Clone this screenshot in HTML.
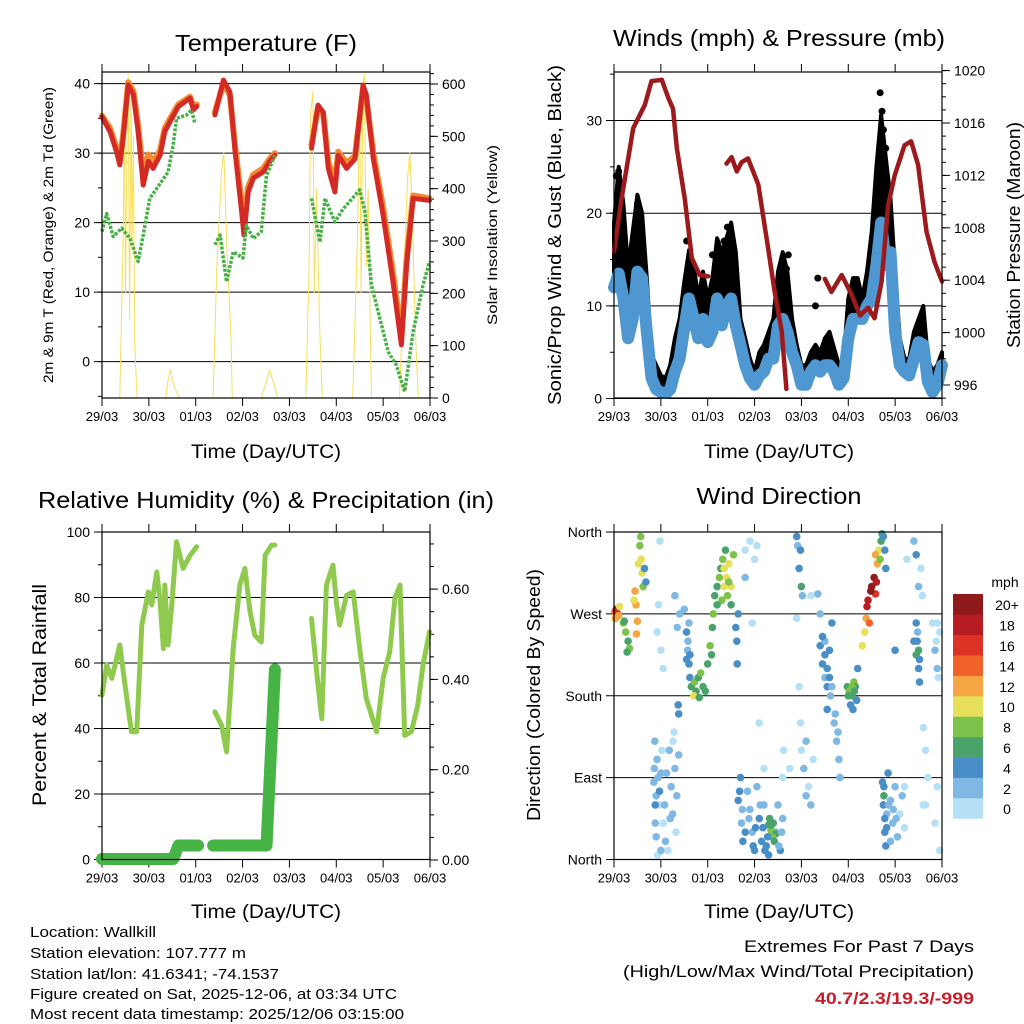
<!DOCTYPE html>
<html><head><meta charset="utf-8"><style>
html,body{margin:0;padding:0;background:#fff;width:1024px;height:1024px;overflow:hidden}
svg{display:block;font-family:"Liberation Sans",Arial,sans-serif}
</style></head><body>
<svg id="fig" width="1024" height="1024" viewBox="0 0 1024 1024" xmlns="http://www.w3.org/2000/svg">
<rect width="1024" height="1024" fill="#fff"/>
<g id="p1"></g>
<g id="p2"></g>
<g id="p3"></g>
<g id="p4"></g>
<text x="266" y="51" font-size="23" text-anchor="middle" textLength="182" lengthAdjust="spacingAndGlyphs">Temperature (F)</text>
<text x="779" y="46" font-size="23" text-anchor="middle" textLength="332" lengthAdjust="spacingAndGlyphs">Winds (mph) &amp; Pressure (mb)</text>
<text x="266" y="508" font-size="23" text-anchor="middle" textLength="456" lengthAdjust="spacingAndGlyphs">Relative Humidity (%) &amp; Precipitation (in)</text>
<text x="779" y="504" font-size="23" text-anchor="middle" textLength="165" lengthAdjust="spacingAndGlyphs">Wind Direction</text>
<text x="266" y="458" font-size="19" text-anchor="middle" textLength="150" lengthAdjust="spacingAndGlyphs">Time (Day/UTC)</text>
<text x="779" y="458" font-size="19" text-anchor="middle" textLength="150" lengthAdjust="spacingAndGlyphs">Time (Day/UTC)</text>
<text x="266" y="918" font-size="19" text-anchor="middle" textLength="150" lengthAdjust="spacingAndGlyphs">Time (Day/UTC)</text>
<text x="779" y="918" font-size="19" text-anchor="middle" textLength="150" lengthAdjust="spacingAndGlyphs">Time (Day/UTC)</text>
<text transform="translate(53,235) rotate(-90)" font-size="14" text-anchor="middle" textLength="296" lengthAdjust="spacingAndGlyphs">2m &amp; 9m T (Red, Orange) &amp; 2m Td (Green)</text>
<text transform="translate(497,235) rotate(-90)" font-size="14" text-anchor="middle" textLength="180" lengthAdjust="spacingAndGlyphs">Solar Insolation (Yellow)</text>
<text transform="translate(561,235) rotate(-90)" font-size="18" text-anchor="middle" textLength="340" lengthAdjust="spacingAndGlyphs">Sonic/Prop Wind &amp; Gust (Blue, Black)</text>
<text transform="translate(1020,235) rotate(-90)" font-size="18" text-anchor="middle" textLength="226" lengthAdjust="spacingAndGlyphs">Station Pressure (Maroon)</text>
<text transform="translate(46,695) rotate(-90)" font-size="19" text-anchor="middle" textLength="222" lengthAdjust="spacingAndGlyphs">Percent &amp; Total Rainfall</text>
<text transform="translate(540,695) rotate(-90)" font-size="18" text-anchor="middle" textLength="252" lengthAdjust="spacingAndGlyphs">Direction (Colored By Speed)</text>
<g font-size="15">
<text x="30" y="937" textLength="126" lengthAdjust="spacingAndGlyphs">Location: Wallkill</text>
<text x="30" y="958" textLength="216" lengthAdjust="spacingAndGlyphs">Station elevation: 107.777 m</text>
<text x="30" y="979" textLength="249" lengthAdjust="spacingAndGlyphs">Station lat/lon: 41.6341; -74.1537</text>
<text x="30" y="999" textLength="367" lengthAdjust="spacingAndGlyphs">Figure created on Sat, 2025-12-06, at 03:34 UTC</text>
<text x="30" y="1019" textLength="374" lengthAdjust="spacingAndGlyphs">Most recent data timestamp: 2025/12/06 03:15:00</text>
</g>
<g font-size="17" text-anchor="end">
<text x="974" y="952" textLength="230" lengthAdjust="spacingAndGlyphs">Extremes For Past 7 Days</text>
<text x="974" y="977" textLength="351" lengthAdjust="spacingAndGlyphs">(High/Low/Max Wind/Total Precipitation)</text>
<text x="974" y="1004" fill="#c8202a" font-weight="bold" textLength="159" lengthAdjust="spacingAndGlyphs">40.7/2.3/19.3/-999</text>
</g>
</svg>
<script>
// ---------- data ----------
const dayLabels=["29/03","30/03","01/03","02/03","03/03","04/03","05/03","06/03"];
const tempT=[0,.17,.31,.38,.45,.56,.67,.77,.88,.99,1.09,1.24,1.34,1.49,1.63,1.88,1.95,2.02,null,2.41,2.59,2.73,2.84,2.98,3.03,3.12,3.23,3.44,3.58,3.69,null,4.47,4.61,4.72,4.83,4.97,5.04,5.22,5.40,5.57,5.64,5.79,6.0,6.21,6.39,6.50,6.64,6.99];
const temp2m=[35.2,33.1,30.2,28.3,32.1,39.8,38.4,33.1,25.4,28.8,27.8,29.7,33.1,35.0,36.7,37.9,36.2,36.7,null,35.5,40.5,38.8,30.2,21.6,18.2,24.4,26.4,27.3,28.8,29.7,null,30.7,36.9,35.9,27.8,24.4,29.7,27.8,29.2,39.8,38.4,29.2,21.1,11.5,2.4,13.9,23.5,23.2];
const temp9m=[35.4,33.6,30.8,29.0,32.6,40.2,38.9,34.0,27.0,29.8,28.8,30.4,33.6,35.4,37.0,38.1,36.6,37.0,null,35.9,40.0,38.3,31.0,23.0,19.5,25.2,26.9,27.8,29.2,30.0,null,31.2,36.5,35.6,28.8,25.6,30.2,28.6,29.6,39.2,37.9,30.0,22.2,12.8,3.6,14.8,23.9,23.5];
const dewT=[0,.10,.24,.42,.60,.77,.88,1.02,1.27,1.41,1.52,1.59,1.81,1.91,1.98,null,2.41,2.52,2.66,2.80,3.01,3.08,3.23,3.40,3.51,3.69,null,4.47,4.65,4.76,4.97,5.15,5.50,5.61,5.75,5.93,6.11,6.28,6.46,6.64,6.85,6.99];
const dewV=[18.7,21.3,18.0,19.2,17.7,14.4,18.2,23.5,25.9,27.3,31.2,35.0,35.5,36.2,34.3,null,16.8,18.2,11.5,15.8,14.9,19.6,17.7,18.7,26.8,29.7,null,23.5,17.2,23.5,20.1,22.0,24.7,21.6,11.0,6.2,1.4,-0.5,-4.3,4.3,11.0,14.4];
const solarT=[.38,.45,.48,.50,.53,.56,.59,.62,.64,.67,.70,.75,1.36,1.40,1.46,1.50,1.55,1.65,2.37,2.45,2.55,2.6,2.66,2.75,2.78,3.40,3.52,3.58,3.62,3.66,3.75,4.35,4.42,4.45,4.50,4.53,4.58,4.64,4.70,5.35,5.45,5.50,5.53,5.57,5.60,5.64,5.68,5.75,6.35,6.45,6.52,6.57,6.62,6.70,6.75];
const solarV=[0,300,580,200,450,620,150,600,300,500,100,0,0,30,55,35,20,0,0,250,430,470,300,120,0,0,35,55,40,30,0,0,250,540,585,200,400,150,0,0,300,560,200,600,620,250,400,0,0,250,420,470,350,100,0];
const presT=[0,.16,.41,.66,.80,1.02,1.16,1.26,1.34,1.51,1.66,1.83,2.01,null,2.40,2.51,2.62,2.72,2.86,3.08,3.29,3.43,3.58,3.68,null,4.50,4.64,4.86,5.07,5.25,5.42,5.56,5.71,5.85,5.99,6.20,6.34,6.49,6.67,6.84,7.0];
const presV=[1006.2,1010.2,1015.6,1017.4,1019.2,1019.3,1017.9,1017.1,1014.1,1010.2,1005.7,1004.4,1004.3,null,1012.9,1013.4,1012.3,1013.0,1013.3,1011.3,1006.4,1003.1,1000.1,995.7,null,1004.1,1003.1,1004.4,1002.9,1001.3,1001.9,1001.1,1003.9,1009.7,1012.0,1014.3,1014.6,1012.8,1007.7,1005.4,1003.9];
const windT=[0,.1,.2,.3,.4,.5,.6,.7,.8,.9,1.0,1.1,1.2,1.3,1.4,1.5,1.6,1.7,1.8,1.9,2.0,2.1,2.2,2.3,2.4,2.5,2.6,2.7,2.8,2.9,3.0,3.1,3.2,3.3,3.4,3.5,3.6,3.7,3.8,3.9,4.0,4.1,4.2,4.3,4.4,4.5,4.6,4.7,4.8,4.9,5.0,5.1,5.2,5.3,5.4,5.5,5.6,5.7,5.8,5.9,6.0,6.1,6.2,6.3,6.4,6.5,6.6,6.7,6.8,6.9,7.0];
const windV=[12,13.5,10.8,6.5,8.6,13.7,13,7.2,2.2,1,0.7,0.5,1,2.9,4.3,7.6,10.8,8.6,6.5,8.6,6.1,7.2,10.8,7.9,10,10.8,7.9,5.8,3.6,2.2,1.5,2.5,2.9,4.3,4.3,7.9,8.6,7.2,5,3.6,1.5,1.5,2.9,3.6,2.9,3.6,3.6,2.9,1.5,2.2,6.5,8.6,8.6,8.6,10,10.8,14.4,19,14.4,15.8,7.2,3.6,2.9,2.5,4.3,6.1,5.8,1.8,0.7,1.5,3.6];
const gustV=[19,25,21,14,18,22,20,13,4.7,3.6,2.5,2.2,3.6,6.5,8.6,12.6,16,14.4,10.8,13.7,10.8,13,17.3,15.8,17.3,19,15.8,8.6,6.5,4.3,2.9,5,5.8,7.2,8.6,13.7,15.8,13.7,8.6,5.8,3.6,3.6,5,5.8,5,6.5,7.2,5.4,3.6,4.3,10.8,13,13,10.8,13.7,18,25,30.6,26,21.6,13.7,6.5,4.3,4.3,7.2,8.6,10,4.3,2.9,3.6,5];
const gustOutT=[0.05,0.1,0.5,2.1,2.35,2.42,3.68,3.72,4.3,4.35,5.68,5.72,5.75,5.8,0.55,1.55];
const gustOutV=[24,24.5,21,15.5,17,18.5,14,15.5,10,13,33,31,29,27,19,17];
const rhT=[0,.10,.21,.38,.53,.63,.74,.85,.99,1.06,1.17,1.24,1.31,1.34,1.41,1.49,1.59,1.73,1.88,2.02,null,2.41,2.55,2.66,2.80,2.94,3.05,3.16,3.26,3.40,3.48,3.62,3.69,null,4.47,4.61,4.69,4.79,4.93,5.00,5.07,5.22,5.36,5.50,5.64,5.86,6.00,6.14,6.25,6.36,6.46,6.60,6.74,6.85,6.99];
const rhV=[50.2,59.4,55.3,65.5,49.2,39.0,39.0,71.6,81.7,77.7,87.8,78.7,64.4,83.8,65.5,77.7,97.0,88.9,92.9,95.5,null,45.1,41.0,32.9,64.4,83.8,88.9,75.6,68.5,66.4,92.9,96.0,96.0,null,73.6,53.2,43.0,83.8,89.9,78.7,71.6,80.7,81.7,64.4,49.2,39.0,55.3,63.4,79.7,83.8,37.9,39.0,47.2,59.4,69.5];
const precipT=[0,1.52,1.63,2.05,null,2.37,3.51,3.69];
const precipV=[0,0,0.03,0.03,null,0.03,0.03,0.42];
const dirT=[0.02,0.05,0.08,0.1,0.03,0.12,0.2,0.25,0.3,0.33,0.28,0.22,0.45,0.47,0.5,0.48,0.43,0.55,0.58,0.6,0.62,0.57,0.65,0.68,0.52,0.95,1.0,1.05,0.92,0.98,0.85,0.9,0.88,0.92,0.96,1.0,1.05,1.1,1.18,1.22,1.25,1.3,1.32,1.28,0.93,1.15,1.3,1.35,1.37,1.38,1.4,1.55,1.57,1.6,1.62,1.58,1.65,1.72,1.8,1.75,1.9,1.85,1.7,1.95,1.82,2.0,2.05,2.1,2.12,2.15,2.2,2.25,2.28,2.32,2.35,2.4,2.45,2.5,2.42,2.55,2.38,2.5,2.6,2.62,2.63,2.65,2.8,2.9,3.0,3.05,2.95,2.8,2.65,2.7,2.72,2.75,2.85,2.9,2.95,3.0,3.05,3.1,3.15,3.2,3.25,3.3,3.45,3.5,3.55,3.6,3.3,3.35,3.4,3.45,3.38,3.1,3.2,3.6,3.62,3.75,3.9,3.92,3.95,4.0,4.02,3.98,4.2,4.35,4.4,3.9,3.95,3.98,4.0,4.05,4.1,4.15,4.2,4.25,4.1,4.4,4.45,4.5,4.55,4.6,4.65,4.62,4.7,4.55,4.5,4.75,4.8,4.82,4.78,4.98,5.02,5.08,5.12,5.15,5.05,5.1,5.2,5.18,5.3,5.35,5.38,5.4,5.42,5.45,5.5,5.55,5.6,5.58,5.48,5.62,5.65,5.58,5.7,5.68,5.72,5.75,5.78,5.8,5.73,5.75,5.78,5.8,5.82,5.9,5.95,6.0,6.05,6.1,6.15,5.85,6.2,5.76,6.0,6.2,6.25,6.4,6.45,6.5,6.4,6.45,6.5,6.52,6.48,6.55,6.58,6.6,6.65,6.7,6.9,6.85,6.95,6.65,6.8,6.85,6.9,6.95,6.88,
0.86,0.88,0.9,0.94,0.97,1.02,1.08,1.12,1.2,1.26,1.34,1.38,0.87,1.0,1.5,1.55,1.6,1.62,2.45,2.35,2.3,2.2,2.08,2.68,2.74,2.8,2.88,2.97,3.02,3.12,3.18,3.22,3.28,3.32,3.36,3.42,3.52,3.58,4.45,4.5,4.55,4.6,4.65,4.72,5.0,5.08,5.13,5.76,5.78,5.82,5.86,5.9,5.96,6.02,6.45,6.47,6.52,6.5,6.6,6.9,6.92];
const dirV=[272,275,270,268,265,278,260,250,240,232,228,262,295,280,262,248,285,345,330,315,300,355,320,305,325,280,230,210,250,350,85,70,40,110,60,95,40,20,120,80,50,100,30,140,5,10,290,255,170,160,270,250,230,215,200,240,190,195,200,185,190,205,180,185,178,215,235,255,270,290,300,310,320,330,300,310,325,300,290,335,340,280,255,240,215,270,340,350,330,345,260,310,65,90,40,20,75,55,30,10,80,45,20,60,15,5,30,60,10,45,38,32,40,28,25,150,100,90,120,100,355,345,320,300,290,340,290,292,270,265,190,150,120,100,130,80,60,110,70,235,215,200,190,230,260,180,150,165,240,130,110,90,140,190,185,180,195,190,170,165,210,175,235,250,265,278,285,260,300,310,305,292,295,325,340,335,350,330,358,355,340,320,85,60,30,15,50,65,40,80,25,50,70,95,35,70,230,80,330,350,335,300,240,225,210,195,250,320,290,145,120,90,80,40,10,60,260,230,210,250,240,
100,60,25,90,75,120,60,95,45,130,70,115,130,10,275,220,260,225,305,320,285,280,225,75,55,30,45,15,35,60,35,10,25,45,38,20,15,30,245,225,210,200,190,160,180,190,185,80,45,35,60,20,55,45,260,240,220,230,60,260,200];
const dirS=[14,18,16,12,12,10,8,8,6,8,6,6,12,12,12,12,10,8,10,10,8,8,4,4,10,0,0,0,0,0,2,2,2,2,0,2,0,2,2,2,2,2,0,0,0,0,2,2,4,4,2,4,2,4,4,2,6,8,6,6,6,8,10,6,6,6,8,6,8,6,6,8,6,8,10,10,10,10,8,8,6,6,4,4,4,4,0,0,0,0,0,2,4,4,2,4,2,2,2,4,2,4,4,2,4,4,2,2,4,2,6,8,6,6,8,0,0,0,0,0,4,2,4,6,2,4,0,2,2,0,0,0,0,2,2,0,2,0,2,4,4,2,4,4,4,2,2,4,2,2,2,2,2,6,8,6,8,6,4,4,4,4,10,10,12,18,18,14,20,20,18,16,20,12,10,12,6,8,6,4,4,4,4,4,4,4,2,2,2,2,2,0,2,4,0,6,4,0,0,2,4,2,4,6,4,4,2,0,0,0,0,0,0,0,0,0,0,2,2,0,0,
2,4,2,2,4,0,2,2,2,0,2,2,2,2,2,4,2,4,8,10,8,6,6,4,2,4,2,4,4,2,4,4,4,6,6,6,2,2,4,4,4,4,2,2,6,8,6,4,4,4,2,2,2,2,4,4,4,6,0,0,0];
const speedBins=["0","2","4","6","8","10","12","14","16","18","20+"];
const speedColors=["#b5e0f6","#7fb9e3","#4a8ec7","#4aa36b","#7cc24b","#e6e05a","#f6a642","#f0622a","#dd3327","#b71c22","#8e1a1b"];

// ---------- helpers ----------
const NS="http://www.w3.org/2000/svg";
function mk(parent,tag,attrs){const e=document.createElementNS(NS,tag);for(const k in attrs)e.setAttribute(k,attrs[k]);parent.appendChild(e);return e;}
function txt(parent,x,y,s,size,anchor){const e=mk(parent,"text",{x:x,y:y,"font-size":size,"text-anchor":anchor});e.textContent=s;return e;}
function pathD(xs,ys,fx,fy){let d="",pen=false;for(let i=0;i<xs.length;i++){if(xs[i]===null||ys[i]===null){pen=false;continue;}d+=(pen?"L":"M")+fx(xs[i]).toFixed(1)+","+fy(ys[i]).toFixed(1);pen=true;}return d;}

function frame(g,x0,y0,x1,y1){
  const X=t=>x0+t/7*(x1-x0);
  for(let i=0;i<8;i++){
    const x=X(i);
    const tb=mk(g,"line",{x1:x,x2:x,y1:y1,y2:y1+8,stroke:"#000","stroke-width":1});
    
    
    const tt=mk(g,"line",{x1:x,x2:x,y1:y0,y2:y0-8,stroke:"#000","stroke-width":1});
    
    
    const lb=txt(g,x,y1+23,dayLabels[i],13,"middle");
    
    
  }
  return X;
}
function box(g,x0,y0,x1,y1){
  const r=mk(g,"rect",{x:x0,y:y0,width:x1-x0,height:y1-y0,fill:"none",stroke:"#000","stroke-width":1.2});
  
  
}
function leftAxis(g,x0,x1,Y,majors,minors,labels,grid){
  minors.forEach(v=>{const l=mk(g,"line",{x1:x0,x2:x0-4,y1:Y(v),y2:Y(v),stroke:"#000"});
    
    });
  majors.forEach((v,i)=>{
    const l=mk(g,"line",{x1:x0-8,x2:grid?x1:x0,y1:Y(v),y2:Y(v),stroke:"#000","stroke-width":1});
    
    
    const t=txt(g,x0-12,Y(v)+5,labels[i],14,"end");
    
    
  });
}
function rightAxis(g,x1,Y,majors,minors,labels,size){
  minors.forEach(v=>{const l=mk(g,"line",{x1:x1,x2:x1+4,y1:Y(v),y2:Y(v),stroke:"#000"});
    
    });
  majors.forEach((v,i)=>{
    const l=mk(g,"line",{x1:x1,x2:x1+8,y1:Y(v),y2:Y(v),stroke:"#000"});
    
    
    const t=txt(g,x1+12,Y(v)+5,labels[i],size||14,"start");
    
    
  });
}
function range(a,b,s){const r=[];for(let v=a;v<=b+1e-9;v+=s)r.push(+v.toFixed(3));return r;}

// ---------- panel 1: temperature ----------
(function(){
  const g=document.getElementById("p1");
  const x0=102,x1=430,y0=72,y1=398;
  const X=frame(g,x0,y0,x1,y1);
  const Y=v=>361.6-v*6.95;
  const Ys=v=>398-v*0.5233;
  leftAxis(g,x0,x1,Y,[40,30,20,10,0],range(-5,40,5),["40","30","20","10","0"],true);
  rightAxis(g,x1,Ys,range(0,600,100),range(0,620,20),["0","100","200","300","400","500","600"]);
  const s=mk(g,"path",{d:pathD(solarT,solarV,X,Ys),fill:"none",stroke:"#f7df5a","stroke-width":1});
  
  
  const o=mk(g,"path",{d:pathD(tempT,temp9m,X,Y),fill:"none",stroke:"#f28a2e","stroke-width":6,"stroke-linejoin":"round","stroke-linecap":"round"});
  
  
  const r=mk(g,"path",{d:pathD(tempT,temp2m,X,Y),fill:"none",stroke:"#d42a26","stroke-width":5,"stroke-linejoin":"round","stroke-linecap":"round"});
  
  
  const d=mk(g,"path",{d:pathD(dewT,dewV,X,Y),fill:"none",stroke:"#46b044","stroke-width":3.5,"stroke-dasharray":"3 1.5","stroke-linejoin":"round"});
  
  
  box(g,x0,y0,x1,y1);
})();

// ---------- panel 2: winds ----------
(function(){
  const g=document.getElementById("p2");
  const x0=614,x1=942,y0=72,y1=398;
  const X=frame(g,x0,y0,x1,y1);
  const Y=v=>398.6-v*9.27;
  const Yp=p=>385-(p-996)*13.1;
  leftAxis(g,x0,x1,Y,[30,20,10,0],range(0,35,5),["30","20","10","0"],true);
  rightAxis(g,x1,Yp,[1020,1016,1012,1008,1004,1000,996],range(995,1020,1),["1020","1016","1012","1008","1004","1000","996"]);
  let d="M"+X(windT[0])+","+Y(gustV[0]);
  for(let i=1;i<windT.length;i++)d+="L"+X(windT[i]).toFixed(1)+","+Y(gustV[i]).toFixed(1);
  for(let i=windT.length-1;i>=0;i--)d+="L"+X(windT[i]).toFixed(1)+","+Y(windV[i]).toFixed(1);
  const gc=mk(g,"path",{d:d+"Z",fill:"#000",stroke:"#000","stroke-width":4,"stroke-linejoin":"round"});
  
  
  gustOutT.forEach((t,i)=>{const c=mk(g,"circle",{cx:X(t),cy:Y(gustOutV[i]),r:3.5,fill:"#000"});
    
    });
  const b=mk(g,"path",{d:pathD(windT,windV,X,Y),fill:"none",stroke:"#4f97d0","stroke-width":12,"stroke-linejoin":"round","stroke-linecap":"round"});
  
  
  const p=mk(g,"path",{d:pathD(presT,presV,X,Yp),fill:"none",stroke:"#9c1a1c","stroke-width":4.5,"stroke-linejoin":"round","stroke-linecap":"round"});
  
  
  const cl=mk(g,"rect",{x:x0-10,y:y1+1,width:x1-x0+20,height:8,fill:"#fff"});
  
  
  for(let i=0;i<8;i++){const l=mk(g,"line",{x1:X(i),x2:X(i),y1:y1,y2:y1+8,stroke:"#000"});
    
    }
  box(g,x0,y0,x1,y1);
})();

// ---------- panel 3: humidity ----------
(function(){
  const g=document.getElementById("p3");
  const x0=102,x1=430,y0=532,y1=859.5;
  const X=frame(g,x0,y0,x1,y1);
  const Y=v=>859.5-v*3.275;
  const Yr=v=>860-v*451.5;
  leftAxis(g,x0,x1,Y,[100,80,60,40,20,0],range(0,100,10),["100","80","60","40","20","0"],true);
  rightAxis(g,x1,Yr,[0,0.2,0.4,0.6],range(0,0.7,0.05),["0.00","0.20","0.40","0.60"]);
  const r=mk(g,"path",{d:pathD(rhT,rhV,X,Y),fill:"none",stroke:"#8fca4e","stroke-width":5,"stroke-linejoin":"round","stroke-linecap":"round"});
  
  
  const p=mk(g,"path",{d:pathD(precipT,precipV,X,v=>Yr(v)-1),fill:"none",stroke:"#47b446","stroke-width":12,"stroke-linejoin":"round","stroke-linecap":"round"});
  
  
  box(g,x0,y0,x1,y1);
})();

// ---------- panel 4: wind direction ----------
(function(){
  const g=document.getElementById("p4");
  const x0=614,x1=942,y0=532,y1=859.5;
  const X=frame(g,x0,y0,x1,y1);
  const Y=v=>859.5-v*0.9097;
  leftAxis(g,x0,x1,Y,[360,270,180,90,0],[],["North","West","South","East","North"],true);
  for(let i=0;i<dirT.length;i++){
    const bin=Math.min(10,Math.floor(dirS[i]/2));
    const c=mk(g,"circle",{cx:X(dirT[i]).toFixed(1),cy:Y(dirV[i]).toFixed(1),r:3.8,fill:speedColors[bin]});
    
    
  }
  box(g,x0,y0,x1,y1);
  const cb=mk(g,"g",{});
  
  
  const t=txt(cb,1005,587,"mph",14,"middle");
  
  
  const h=20.4;
  for(let i=0;i<11;i++){
    const y=594+(10-i)*h;
    const r=mk(cb,"rect",{x:953,y:y,width:30,height:h+0.3,fill:speedColors[i]});
    
    
    const l=txt(cb,1007,y+h/2+6,speedBins[i],14,"middle");
    
    
  }
})();
</script>
</body></html>
